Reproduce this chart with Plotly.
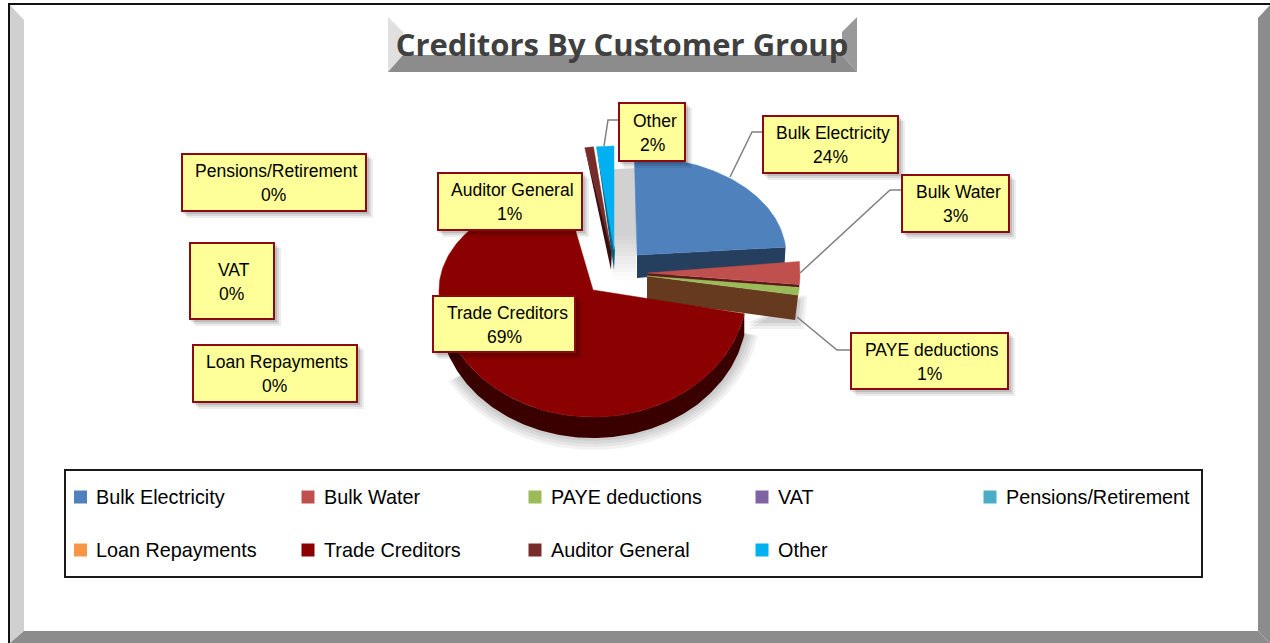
import math
import plotly.graph_objects as go

# ---------- data ----------
categories = ["Bulk Electricity", "Bulk Water", "PAYE deductions", "VAT", "Pensions/Retirement",
              "Loan Repayments", "Trade Creditors", "Auditor General", "Other"]
values = [24, 3, 1, 0, 0, 0, 69, 1, 2]
colors = ["#4F81BD", "#C0504D", "#9BBB59", "#8064A2", "#4BACC6", "#F79646", "#8B0000", "#772C2A", "#00B0F0"]
title_text = "Creditors By Customer Group"

# ---------- 3-D look of each slice (page pixels) ----------
geom = {
    "Bulk Electricity": dict(v=(637, 255), rx=149, up=98, down=98, shift=-1.0, depth=(0, 23), edge=(-1, 18), side="#273F5E", kind="edge"),
    "Bulk Water": dict(v=(648, 273), rx=152, up=122, down=122, shift=-1.8, depth=(0, 4), edge=(0, 3), side="#5A1A18", kind="edge"),
    "PAYE deductions": dict(v=(647, 276), rx=153, up=122, down=122, shift=-1.8, depth=(0, 24), edge=(-3, 25), side="#663A1E", kind="edge"),
    "Trade Creditors": dict(v=(593, 290), rx=154, up=100, down=127, shift=0, depth=(0, 21), side="#3A0000", kind="arc"),
    "Auditor General": dict(v=(611, 250), rx=140, up=104, down=104, shift=0, depth=(0, 20), side="#3A0F0F", kind="sliver"),
    "Other": dict(v=(614, 250), rx=140, up=104, down=104, shift=0, depth=(0, 20), side="#0B5F7E", kind="sliver"),
}

label_boxes = {  # x0, y0, x1, y1, text centre x
    "Bulk Electricity": (763, 116, 898, 173, 833),
    "Bulk Water": (902, 175, 1009, 232, 958),
    "PAYE deductions": (851, 333, 1008, 389, 932),
    "VAT": (190, 243, 274, 319, 234),
    "Pensions/Retirement": (182, 154, 366, 211, 276),
    "Loan Repayments": (193, 345, 357, 402, 277),
    "Trade Creditors": (433, 296, 575, 352, 507),
    "Auditor General": (438, 173, 582, 230, 512),
    "Other": (619, 103, 685, 161, 655),
}
leaders = [
    [(604, 146), (608, 120), (619, 120)],
    [(730, 177), (752, 132), (763, 132)],
    [(800, 273), (890, 190), (902, 190)],
    [(797, 317), (837, 350), (851, 350)],
]
legend_cols = [80.5, 308, 535, 762, 990]
legend_rows = [497, 550]

FONT = "Liberation Sans"
fig = go.Figure()


def point(g, deg, grow=0.0, off=(0, 0)):
    t = math.radians(deg + g["shift"])
    ry = (g["up"] if math.cos(t) > 0 else g["down"]) + grow
    return (g["v"][0] + off[0] + (g["rx"] + grow) * math.sin(t),
            g["v"][1] + off[1] - ry * math.cos(t))


def arc(g, a0, a1, grow=0.0, off=(0, 0)):
    n = max(2, int(abs(a1 - a0)) + 1)
    return [point(g, a0 + (a1 - a0) * i / n, grow, off) for i in range(n + 1)]


def poly(pts, color, name=None, line=None):
    fig.add_trace(go.Scatter(
        x=[p[0] for p in pts] + [pts[0][0]], y=[p[1] for p in pts] + [pts[0][1]],
        mode="lines", fill="toself", fillcolor=color,
        line=dict(width=0.5 if line else 0, color=line or color),
        hoverinfo="skip" if name is None else "text", text=name, showlegend=False, name=name or ""))


# angles from the values
total = sum(values)
angles = {}
running = 0
for c, val in zip(categories, values):
    angles[c] = (running / total * 360, (running + val) / total * 360)
    running += val

# soft shadow below the big slice
tg = geom["Trade Creditors"]
ta0, ta1 = angles["Trade Creditors"]
for k in (14, 11, 8, 5, 2):
    poly([(tg["v"][0], tg["v"][1] + 30)] + arc(tg, ta0, ta1 - 110, grow=k, off=(0, 19)), "rgba(0,0,0,0.05)")

# soft grey wall behind the exploded slices
poly([(600, 170), (636, 168), (636, 236), (612, 236)], "rgba(190,190,190,0.7)")
for bottom in range(240, 282, 4):
    top = bottom - 4
    alpha = max(0.05, 0.7 * (282 - bottom) / 46)
    poly([(612, top), (636, top), (636, bottom), (612, bottom)], f"rgba(190,190,190,{alpha:.2f})")

color_of = dict(zip(categories, colors))
for c in ["Bulk Electricity", "Bulk Water", "PAYE deductions", "Trade Creditors", "Auditor General", "Other"]:
    g = geom[c]
    a0, a1 = angles[c]
    vx, vy = g["v"]
    pct = round(values[categories.index(c)] / total * 100)
    if g["kind"] == "edge":
        e = point(g, a1)
        if c == "PAYE deductions":
            for k, al in ((9, 0.06), (6, 0.07), (3, 0.08)):
                poly([(e[0] + k, e[1]), (e[0] + g["edge"][0] + k, e[1] + g["edge"][1] + k),
                      (e[0] - 50, e[1] + g["edge"][1] + k)], f"rgba(0,0,0,{al})")
        poly([(vx, vy), e, (e[0] + g["edge"][0], e[1] + g["edge"][1]),
              (vx + g["depth"][0], vy + g["depth"][1])], g["side"])
    elif g["kind"] == "arc":
        poly(arc(g, a0, a1 - 79) + arc(g, a1 - 79, a0, off=g["depth"]), g["side"])
    elif g["kind"] == "sliver":
        s = point(g, a0)
        poly([s, (vx + 1, vy), (vx + g["depth"][0], vy + g["depth"][1])], g["side"])
    poly([(vx, vy)] + arc(g, a0, a1), color_of[c], name=f"{c}: {pct}%", line=color_of[c])

annotations = []

# legend markers and labels
n = len(legend_cols)
for i, (c, col) in enumerate(zip(categories, colors)):
    lx, ly = legend_cols[i % n], legend_rows[i // n]
    fig.add_trace(go.Scatter(
        x=[lx], y=[ly], mode="markers", marker=dict(symbol="square", size=13, color=col),
        hoverinfo="skip", showlegend=False, cliponaxis=False))
    annotations.append(dict(x=lx + 15.5, y=ly - 0.5, xref="x", yref="y", showarrow=False, text=c,
                            xanchor="left", yanchor="middle", xshift=-2,
                            font=dict(family=FONT, size=19.8, color="#000000")))

shapes = []


def path(pts):
    return "M" + " L".join(f"{x},{y}" for x, y in pts) + " Z"


def fill_shape(pts, color, layer="below"):
    shapes.append(dict(type="path", path=path(pts), fillcolor=color, line=dict(width=0), layer=layer,
                       xref="x", yref="y"))


# outer frame
fill_shape([(10, 5), (24, 20), (24, 631), (10, 643)], "#D0D0D0")
fill_shape([(1270, 5), (1258, 18), (1258, 631), (1270, 643)], "#8C8C8C")
fill_shape([(10, 643), (24, 631), (1258, 631), (1270, 643)], "#8C8C8C")
fill_shape([(8, 3), (1270, 3), (1270, 5), (10, 5), (10, 643), (8, 643)], "#111111")

# title plate
fill_shape([(388, 17), (403, 32), (403, 55), (388, 72)], "#E0E0E0")
fill_shape([(857, 17), (842, 32), (842, 55), (857, 72)], "#999999")
fill_shape([(388, 72), (403, 55), (842, 55), (857, 72)], "#8C8C8C")

# legend frame
shapes.append(dict(type="rect", x0=65, y0=470, x1=1202, y1=577, line=dict(color="#1A1A1A", width=2),
                   fillcolor="rgba(0,0,0,0)", layer="below", xref="x", yref="y"))

# leader lines
for pts in leaders:
    shapes.append(dict(type="path", path="M" + " L".join(f"{x},{y}" for x, y in pts),
                       line=dict(color="#808080", width=1.5), layer="above", xref="x", yref="y"))

# data-label boxes
for c, val in zip(categories, values):
    x0, y0, x1, y1, tx = label_boxes[c]
    for k, al in ((7, 0.07), (5, 0.09), (3, 0.12)):
        shapes.append(dict(type="rect", x0=x0 + k - 2, y0=y0 + k - 2, x1=x1 + k, y1=y1 + k, line=dict(width=0),
                           fillcolor=f"rgba(0,0,0,{al})", layer="above", xref="x", yref="y"))
    shapes.append(dict(type="rect", x0=x0, y0=y0, x1=x1, y1=y1, line=dict(color="#8B0A14", width=2),
                       fillcolor="#FFFF99", layer="above", xref="x", yref="y"))
    ym = (y0 + y1) / 2 + 0.5
    annotations.append(dict(x=tx, y=ym - 12, xref="x", yref="y", showarrow=False, text=c, yanchor="middle",
                            font=dict(family=FONT, size=17.5, color="#000000")))
    annotations.append(dict(x=tx - 3, y=ym + 12, xref="x", yref="y", showarrow=False,
                            text=f"{round(val / total * 100)}%", yanchor="middle",
                            font=dict(family=FONT, size=17.5, color="#000000")))

fig.update_layout(
    width=1270, height=643, autosize=False, margin=dict(l=0, r=0, t=0, b=0),
    paper_bgcolor="#FFFFFF", plot_bgcolor="rgba(0,0,0,0)", showlegend=False,
    title=dict(text=f"<b>{title_text}</b>", x=622 / 1270, xanchor="center", y=1 - 45 / 643, yanchor="middle",
               font=dict(family="Open Sans", size=31, color="#404040")),
    xaxis=dict(range=[0, 1270], visible=False, fixedrange=True),
    yaxis=dict(range=[643, 0], visible=False, fixedrange=True),
    shapes=shapes, annotations=annotations,
)
fig.write_html("out.html", config=dict(displayModeBar=False),
               post_script="document.body.style.margin='0';document.body.style.overflow='hidden';")
